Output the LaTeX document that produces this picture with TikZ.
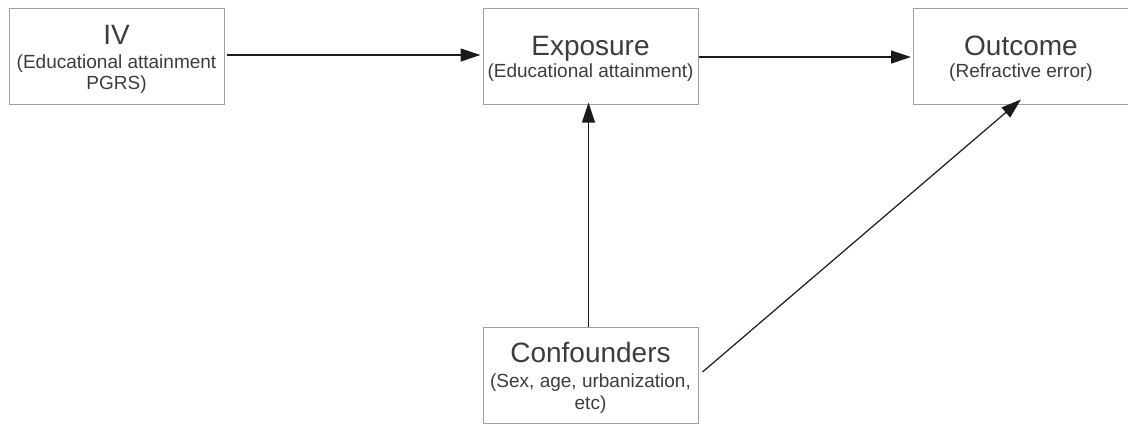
\documentclass[tikz,border=0pt]{standalone}
\usepackage{fontspec}
\setmainfont{Liberation Sans}
\usetikzlibrary{arrows.meta}
\definecolor{boxline}{HTML}{A0A0A0}
\definecolor{txt}{HTML}{3C3C3C}
\definecolor{arr}{HTML}{1A1A1A}
\newcommand{\ttl}[1]{{\fontsize{28}{30}\selectfont\rule{0pt}{25pt}#1}}
\newcommand{\sub}[1]{{\fontsize{19}{21}\selectfont #1}}
\begin{document}
\begin{tikzpicture}[x=1pt,y=-1pt,
  box/.style={draw=boxline,line width=1pt,minimum width=215pt,minimum height=96pt,
    inner sep=0pt,align=center,text=txt,font=\fontsize{19}{21}\selectfont},
  conn/.style={draw=arr,line width=1.2pt,-{Triangle[length=20pt,width=13pt]}}]
\useasboundingbox (0,0) rectangle (1128,424);
\node[box] (iv) at (116.5,56) {\ttl{IV}\\[3pt]\sub{(Educational attainment}\\\sub{PGRS)}};
\node[box] (exp) at (590.5,56) {\ttl{Exposure}\\[1pt]\sub{(Educational attainment)}};
\node[box] (out) at (1021,56) {\ttl{Outcome}\\[1pt]\sub{(Refractive error)}};
\node[box] (conf) at (590.5,375) {\ttl{Confounders}\\[4pt]\sub{(Sex, age, urbanization,}\\[1pt]\sub{etc)}};
\draw[conn] ([xshift=2pt]iv.east |- 0,55) -- ([xshift=-2pt]exp.west |- 0,55);
\draw[conn] (exp.east |- 0,57) -- ([xshift=-2pt]out.west |- 0,57);
\draw[conn] ([xshift=-2pt]conf.north) -- ([xshift=-2pt,yshift=2pt]exp.south);
\draw[conn] ([xshift=4pt,yshift=3pt]conf.east) -- ([yshift=5pt]out.south);
\end{tikzpicture}
\end{document}
